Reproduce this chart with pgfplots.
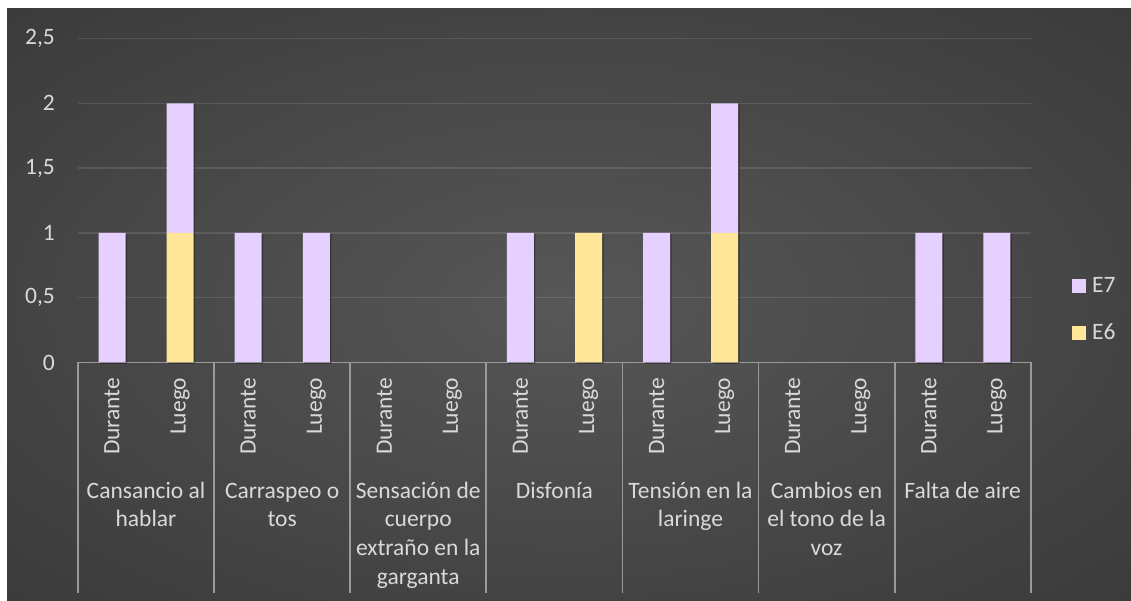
\documentclass[border=0pt]{standalone}
\usepackage{pgfplots}
\pgfplotsset{compat=1.18}
\usepackage{pgfplotstable}
\usepackage{fontspec}
\setmainfont{Carlito}

\definecolor{txt}{HTML}{D9D9D9}
\definecolor{lav}{HTML}{E6D0FF}
\definecolor{yel}{HTML}{FFE699}
\definecolor{bgin}{HTML}{575757}
\definecolor{bgmid}{HTML}{343434}
\definecolor{bgout}{HTML}{262626}
\definecolor{axisgray}{HTML}{9A9A9A}
\pgfdeclareradialshading{chartbg}{\pgfpoint{0bp}{0bp}}{color(0bp)=(bgin); color(44bp)=(bgmid); color(72bp)=(bgout)}

\newcommand{\lblfont}{\fontsize{23.5}{28.7}\selectfont}

% symptom counts per slot (Durante / Luego for each symptom)
\pgfplotstableread{
x    E6  E7
0.5  0   1
1.5  1   1
2.5  0   1
3.5  0   1
4.5  0   0
5.5  0   0
6.5  0   1
7.5  1   0
8.5  0   1
9.5  1   1
10.5 0   0
11.5 0   0
12.5 0   1
13.5 0   1
}\sintomas

\makeatletter
\tikzset{
  barshadow/.style={preaction={fill=black, fill opacity=0.3,
    transform canvas={xshift=1.5pt, yshift=-1.5pt}}},
  noshadow/.code={\let\tikz@preactions\pgfutil@empty}
}
\makeatother

\begin{document}
\begin{tikzpicture}
\useasboundingbox (0,0) rectangle (1131pt,601pt);
\fill[white] (0,0) rectangle (1131pt,601pt);
\shade[shading=chartbg] (7pt,0pt) rectangle (1131pt,592pt);

\begin{axis}[
  at={(78pt,238.5pt)}, anchor=south west,
  scale only axis, width=953pt, height=324pt,
  xmin=0, xmax=14, ymin=0, ymax=2.5,
  ybar stacked, bar width=27pt,
  axis line style={draw=none},
  major tick length=0pt,
  ytick={0,0.5,1,1.5,2,2.5},
  yticklabels={0,{0,5},1,{1,5},2,{2,5}},
  ymajorgrids,
  grid style={white, opacity=0.11, line width=1.3pt},
  xtick={0.5,1.5,...,13.5},
  xticklabels={Durante,Luego,Durante,Luego,Durante,Luego,Durante,Luego,Durante,Luego,Durante,Luego,Durante,Luego},
  xticklabel style={rotate=90, anchor=east, inner sep=0pt},
  xticklabel shift=15pt,
  yticklabel style={anchor=east, inner sep=0pt},
  yticklabel shift=23pt,
  tick label style={font=\lblfont, text=txt},
  clip=false,
  reverse legend,
  legend style={draw=none, fill=none, at={(axis description cs:1.043,0.2636)},
    anchor=north west, inner sep=0pt, row sep=30pt, column sep=6pt,
    font=\lblfont, text=txt, nodes={inner sep=0pt}},
  legend cell align=left,
]
\addplot[fill=yel, draw=none, barshadow,
  legend image code/.code={\fill[noshadow, yel] (0pt,-7.5pt) rectangle (14pt,6.5pt);}]
  table[x=x, y=E6] {\sintomas};
\addlegendentry{E6}
\addplot[fill=lav, draw=none, barshadow,
  legend image code/.code={\fill[noshadow, lav] (0pt,-7.5pt) rectangle (14pt,6.5pt);}]
  table[x=x, y=E7] {\sintomas};
\addlegendentry{E7}
\draw[axisgray, line width=1.6pt] (axis cs:0,0) -- (axis cs:14,0);
\end{axis}

% category separators of the two-level axis
\foreach \k in {0,...,7}
  \draw[axisgray, line width=1.8pt] ({78pt+136.1pt*\k},238.5pt) -- ({78pt+136.1pt*\k},8pt);

% symptom names
\foreach \k/\name in {0/{Cansancio al\\hablar},1/{Carraspeo o\\tos},
    2/{Sensación de\\cuerpo\\extraño en la\\garganta},3/{Disfonía},
    4/{Tensión en la\\laringe},5/{Cambios en\\el tono de la\\voz},6/{Falta de aire}}
  \node[anchor=north, align=center, font=\lblfont, text=txt, inner sep=0pt]
    at ({78pt+136.1pt*(\k+0.5)},123.1pt) {\strut\name};
\end{tikzpicture}
\end{document}
